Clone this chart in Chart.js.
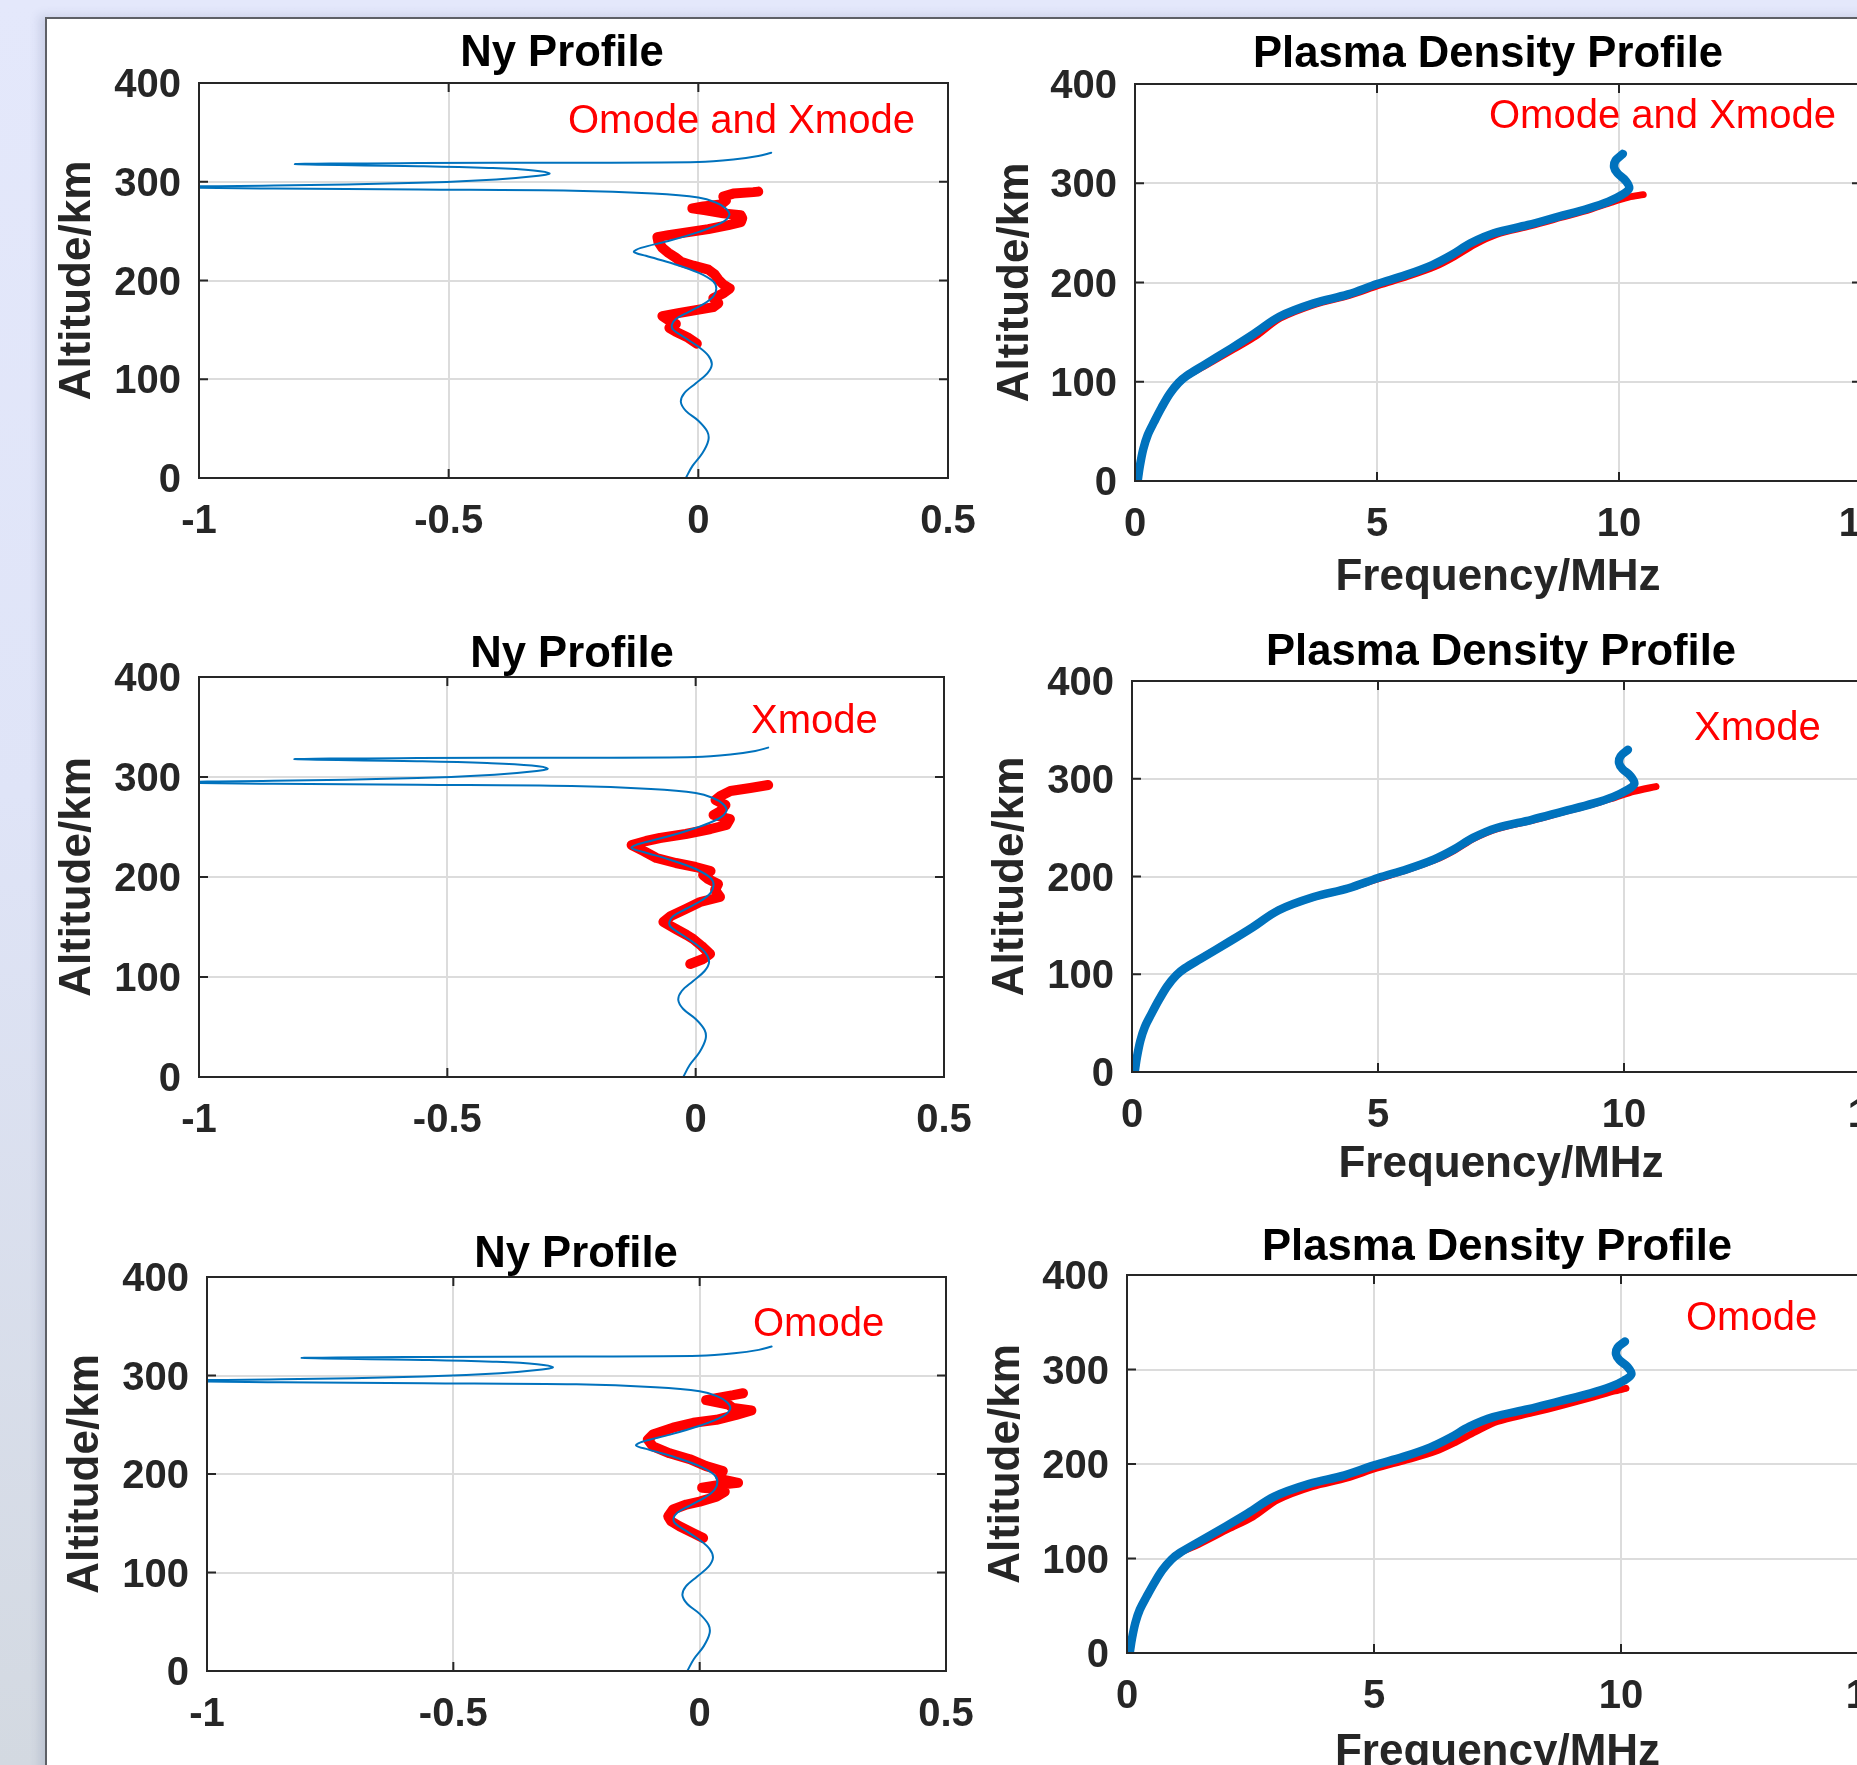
<!DOCTYPE html>
<html>
<head>
<meta charset="utf-8">
<title>Ny and plasma density profiles</title>
<script src="https://cdn.jsdelivr.net/npm/chart.js@4.4.1/dist/chart.umd.min.js"></script>
<style>
  html, body { margin: 0; padding: 0; width: 1857px; height: 1765px; overflow: hidden; }
  body { position: relative; background: linear-gradient(180deg, #e4e8fb 0%, #dfe4f7 45%, #d3d9e1 100%); }
  #figure { position: absolute; left: 45px; top: 17px; width: 1900px; height: 1800px; background: #fff;
            border-left: 2px solid #5e6066; border-top: 2px solid #5e6066;
            box-shadow: -6px -2px 9px rgba(70, 80, 130, 0.15); }
  canvas { position: absolute; }
</style>
</head>
<body>
<div id="figure"></div>
<script>
// ---- Ny profile: model curve (same in the three left panels) ----
const nyModelX = [-0.025, -0.012, 0.008, 0.02, 0.018, 0.0, -0.025, -0.035, -0.028, -0.005,
  0.018, 0.027, 0.02, 0.0, -0.03, -0.05, -0.053, -0.045, -0.02, 0.01,
  0.03, 0.036, 0.03, 0.0, -0.05, -0.105, -0.129, -0.115, -0.06, 0.0,
  0.045, 0.062, 0.055, 0.035, 0.0, -0.09, -0.25, -0.56, -0.85, -1.1,
  -0.85, -0.56, -0.405, -0.32, -0.298, -0.33, -0.42, -0.55, -0.808, -0.56,
  -0.25, 0.0, 0.07, 0.12, 0.146];
const nyModelAlt = [0, 12, 25, 38, 47, 58, 68, 77, 86, 96,
  106, 115, 124, 133, 143, 150, 155, 161, 168, 176,
  184, 192, 199, 208, 217, 225, 229, 233, 240, 249,
  258, 266, 273, 279, 284, 288, 291, 292.2, 293.2, 294.6,
  296.2, 298.9, 302.3, 306, 308.4, 311.5, 314, 315.8, 317.8, 318.9,
  319.3, 320, 322.5, 326, 329.4];

// ---- Ny profile: retrieved traces ----
const nyBothX = [-0.003, -0.02, -0.045, -0.058, -0.045, -0.06, -0.072, -0.04, -0.005, 0.03,
  0.04, 0.03, 0.05, 0.063, 0.05, 0.04, 0.033, 0.02, -0.01, -0.035,
  -0.045, -0.06, -0.072, -0.08, -0.082, -0.06, -0.02, 0.02, 0.06, 0.085,
  0.088, 0.085, 0.05, 0.015, -0.012, 0.01, 0.045, 0.055, 0.05, 0.07,
  0.11, 0.12];
const nyBothAlt = [136, 142, 148, 152, 156, 160, 164, 167, 170, 173,
  177, 182, 187, 192, 196, 201, 206, 211, 215, 219,
  223, 228, 233, 239, 244, 246, 249, 252, 256, 259,
  263, 266, 268, 271, 273, 275, 277, 281, 285, 288,
  289.5, 290];

const nyXmodeX = [-0.011, 0.015, 0.029, 0.012, -0.005, -0.018, -0.04, -0.065, -0.05, -0.02,
  0.009, 0.049, 0.039, 0.045, 0.025, 0.015, 0.03, 0.0, -0.04, -0.079,
  -0.105, -0.129, -0.1, -0.072, -0.02, 0.03, 0.062, 0.069, 0.036, 0.05,
  0.06, 0.04, 0.05, 0.07, 0.11, 0.146];
const nyXmodeAlt = [113, 118, 123, 131, 138, 142, 148, 155, 161, 168,
  175, 180, 187, 193, 198, 202, 206, 210, 214, 219,
  226, 232, 236, 239, 243, 248, 252, 258, 262, 266,
  272, 277, 281, 286, 289, 292];

const nyOmodeX = [0.007, -0.013, -0.041, -0.058, -0.064, -0.054, -0.027, 0.0, 0.034, 0.051,
  0.03, 0.005, 0.04, 0.078, 0.05, 0.041, 0.047, 0.013, -0.02, -0.061,
  -0.095, -0.105, -0.095, -0.054, -0.013, 0.034, 0.074, 0.105, 0.068, 0.058,
  0.013, 0.034, 0.068, 0.088];
const nyOmodeAlt = [135, 140, 147, 152, 157, 164, 169, 172, 177, 182,
  185, 186, 189, 191, 194, 198, 203, 208, 215, 221,
  228, 235, 240, 247, 252, 255, 260, 264.5, 267, 270.5,
  275, 277, 280, 282];

// ---- plasma frequency profile: model ----
const densModelF = [0.055, 0.1, 0.17, 0.26, 0.4, 0.55, 0.72, 0.9, 1.07, 1.4,
  2.0, 2.45, 2.98, 3.69, 4.4, 5.0, 5.59, 6.14, 6.54, 6.93,
  7.41, 8.12, 8.75, 9.38, 9.78, 10.06, 10.21, 10.13, 9.97, 9.9,
  9.93, 10.08];
const densModelAlt = [0, 15, 32, 46, 60, 74, 88, 99, 106, 116,
  134, 148, 165.5, 179, 188, 198.5, 207.5, 217.6, 227.7, 239.5,
  249.6, 258, 266.4, 274.8, 281.5, 288.3, 295, 303, 310, 316,
  323, 329.6];

// ---- plasma frequency profile: retrieved ----
const densBothF = [0.055, 0.1, 0.17, 0.26, 0.4, 0.55, 0.72, 0.9, 1.07, 1.42,
  2.03, 2.5, 3.0, 3.72, 4.43, 5.03, 5.63, 6.2, 6.6, 7.0,
  7.47, 8.17, 8.8, 9.42, 9.85, 10.2, 10.5];
const densBothAlt = [0, 15, 32, 46, 60, 74, 88, 99, 106, 115.5,
  132.5, 146, 164, 178, 187, 197, 206, 216, 226, 238,
  248.5, 257, 265.5, 274, 281, 286, 288.5];

const densXmodeF = [0.055, 0.1, 0.17, 0.26, 0.4, 0.55, 0.72, 0.9, 1.07, 1.4,
  2.0, 2.45, 2.98, 3.7, 4.41, 5.02, 5.6, 6.16, 6.56, 6.95,
  7.43, 8.14, 8.77, 9.4, 9.82, 10.2, 10.65];
const densXmodeAlt = [0, 15, 32, 46, 60, 74, 88, 99, 106, 116,
  134, 148, 165.5, 179, 188, 198, 207, 217, 227, 239,
  249, 257.5, 266, 274.5, 281, 287, 292];

const densOmodeF = [0.055, 0.1, 0.17, 0.26, 0.4, 0.55, 0.72, 0.9, 1.07, 1.45,
  2.05, 2.55, 3.05, 3.75, 4.45, 5.05, 5.65, 6.25, 6.65, 7.05,
  7.5, 8.2, 8.85, 9.45, 9.85, 10.1];
const densOmodeAlt = [0, 15, 32, 46, 60, 74, 88, 99, 106, 115,
  131, 144, 162, 176, 185, 195.5, 204, 213.5, 223, 234,
  245, 254, 262.5, 271, 277, 280];

// axis ticks
const nyTicks = [-1, -0.5, 0, 0.5];
const freqTicks = [0, 5, 10, 15];
const altTicks = [0, 100, 200, 300, 400];

const modeNames = ['Omode and Xmode', 'Xmode', 'Omode'];

const FONT = "'Liberation Sans', Arial, Helvetica, sans-serif";
const BLUE = '#0072BD';
const RED = '#FF0000';
const INK = '#262626';
const GRID = '#dcdcdc';
const TICK_LEN = 9;
const LABEL_SIZE = 44;
const TITLE_SIZE = 43.6;

Chart.defaults.font.family = FONT;

const pairs = (xs, ys) => xs.map((x, i) => ({ x, y: ys[i] }));

// page layout of the six axes: canvas box, plot area, text anchors
const panels = [
  { kind: 'ny', mode: 0, box: [47, 19, 980, 615], area: [199, 83, 948, 478],
    title: { cx: 562, base: 66 }, note: { x: 568, base: 133 }, yLabX: 78 },
  { kind: 'dens', mode: 0, box: [980, 19, 1940, 615], area: [1135, 84, 1861, 481],
    title: { cx: 1488, base: 67 }, note: { x: 1489, base: 127.5 }, yLabX: 1016, xLabMid: 577.5 },
  { kind: 'ny', mode: 1, box: [47, 615, 980, 1215], area: [199, 677, 944, 1077],
    title: { cx: 572, base: 667 }, note: { x: 751, base: 733 }, yLabX: 78 },
  { kind: 'dens', mode: 1, box: [980, 615, 1940, 1215], area: [1132, 681, 1870, 1072],
    title: { cx: 1501, base: 665 }, note: { x: 1694, base: 740 }, yLabX: 1011, xLabMid: 1164.5 },
  { kind: 'ny', mode: 2, box: [47, 1215, 980, 1800], area: [207, 1277, 946, 1671],
    title: { cx: 576, base: 1267 }, note: { x: 753, base: 1336 }, yLabX: 86 },
  { kind: 'dens', mode: 2, box: [980, 1215, 1940, 1800], area: [1127, 1275, 1868, 1653],
    title: { cx: 1497, base: 1260 }, note: { x: 1686, base: 1330 }, yLabX: 1007, xLabMid: 1752.5 }
];

const nyObs = [pairs(nyBothX, nyBothAlt), pairs(nyXmodeX, nyXmodeAlt), pairs(nyOmodeX, nyOmodeAlt)];
const densObs = [pairs(densBothF, densBothAlt), pairs(densXmodeF, densXmodeAlt), pairs(densOmodeF, densOmodeAlt)];

// box around the axes with inward ticks on all four sides
const boxFrame = {
  id: 'boxFrame',
  afterDatasetsDraw(chart) {
    const { ctx, chartArea: a, scales: { x, y } } = chart;
    ctx.save();
    ctx.strokeStyle = INK;
    ctx.lineWidth = 2;
    ctx.beginPath();
    x.ticks.forEach(t => {
      const px = x.getPixelForValue(t.value);
      if (px <= a.left + 1 || px >= a.right - 1) return;
      ctx.moveTo(px, a.bottom); ctx.lineTo(px, a.bottom - TICK_LEN);
      ctx.moveTo(px, a.top); ctx.lineTo(px, a.top + TICK_LEN);
    });
    y.ticks.forEach(t => {
      const py = y.getPixelForValue(t.value);
      if (py <= a.top + 1 || py >= a.bottom - 1) return;
      ctx.moveTo(a.left, py); ctx.lineTo(a.left + TICK_LEN, py);
      ctx.moveTo(a.right, py); ctx.lineTo(a.right - TICK_LEN, py);
    });
    ctx.stroke();
    ctx.strokeRect(a.left, a.top, a.right - a.left, a.bottom - a.top);
    ctx.restore();
  }
};

// axes title and the red mode note
const panelText = {
  id: 'panelText',
  afterDraw(chart, args, o) {
    const ctx = chart.ctx;
    ctx.save();
    ctx.textBaseline = 'alphabetic';
    ctx.textAlign = 'center';
    ctx.fillStyle = '#000';
    ctx.font = `bold ${TITLE_SIZE}px ${FONT}`;
    ctx.fillText(o.title, o.titleX, o.titleY);
    ctx.textAlign = 'left';
    ctx.fillStyle = RED;
    ctx.font = `40px ${FONT}`;
    ctx.fillText(o.note, o.noteX, o.noteY);
    ctx.restore();
  }
};

function buildPanel(p) {
  const [x0, y0, x1, y1] = p.box;
  const [L, T, R, B] = p.area;
  const canvas = document.createElement('canvas');
  canvas.width = x1 - x0;
  canvas.height = y1 - y0;
  canvas.style.left = x0 + 'px';
  canvas.style.top = y0 + 'px';
  document.body.appendChild(canvas);

  const isNy = p.kind === 'ny';
  const xTicks = isNy ? nyTicks : freqTicks;
  const yAxisW = L - x0;
  const xAxisH = y1 - B;
  const half = LABEL_SIZE * 1.2 / 2;

  const model = isNy ? pairs(nyModelX, nyModelAlt) : pairs(densModelF, densModelAlt);
  const obs = isNy ? nyObs[p.mode] : densObs[p.mode];

  new Chart(canvas, {
    type: 'scatter',
    data: {
      datasets: [
        { data: model, showLine: true, borderColor: BLUE, borderWidth: isNy ? 2 : 8.5,
          tension: 0.35, pointRadius: 0, borderCapStyle: 'round', borderJoinStyle: 'round' },
        { data: obs, showLine: true, borderColor: RED, borderWidth: isNy ? 10 : 7,
          tension: isNy ? 0 : 0.3, pointRadius: 0, borderCapStyle: 'round', borderJoinStyle: 'round' }
      ]
    },
    options: {
      responsive: false,
      animation: false,
      devicePixelRatio: 1,
      events: [],
      layout: { padding: { left: 0, top: T - y0, right: x1 - R, bottom: 0 } },
      plugins: {
        legend: { display: false },
        tooltip: { enabled: false },
        panelText: {
          title: isNy ? 'Ny Profile' : 'Plasma Density Profile',
          titleX: p.title.cx - x0,
          titleY: p.title.base - y0,
          note: modeNames[p.mode],
          noteX: p.note.x - x0,
          noteY: p.note.base - y0
        }
      },
      scales: {
        x: {
          type: 'linear',
          min: xTicks[0],
          max: xTicks[xTicks.length - 1],
          afterBuildTicks: s => { s.ticks = xTicks.map(v => ({ value: v })); },
          afterFit: s => { s.height = xAxisH; s.paddingLeft = 0; s.paddingRight = 0; },
          ticks: { padding: 20, color: INK, maxRotation: 0, autoSkip: false,
                   font: { size: 40, weight: 'bold' }, callback: v => String(v) },
          grid: { color: GRID, lineWidth: 2, drawTicks: false },
          border: { display: false },
          title: isNy ? { display: false } : {
            display: true, text: 'Frequency/MHz', color: INK,
            font: { size: LABEL_SIZE, weight: 'bold' },
            padding: { top: 0, bottom: y1 - p.xLabMid - half }
          }
        },
        y: {
          type: 'linear',
          min: altTicks[0],
          max: altTicks[altTicks.length - 1],
          afterBuildTicks: s => { s.ticks = altTicks.map(v => ({ value: v })); },
          afterFit: s => { s.width = yAxisW; s.paddingTop = 0; s.paddingBottom = 0; },
          ticks: { padding: 18, labelOffset: 3, color: INK, autoSkip: false,
                   font: { size: 40, weight: 'bold' }, callback: v => String(v) },
          grid: { color: GRID, lineWidth: 2, drawTicks: false },
          border: { display: false },
          title: {
            display: true, text: 'Altitude/km', color: INK,
            font: { size: LABEL_SIZE, weight: 'bold' },
            padding: { top: p.yLabX - x0 - half, bottom: 0 }
          }
        }
      }
    },
    plugins: [boxFrame, panelText]
  });
}

panels.forEach(buildPanel);
</script>
</body>
</html>
